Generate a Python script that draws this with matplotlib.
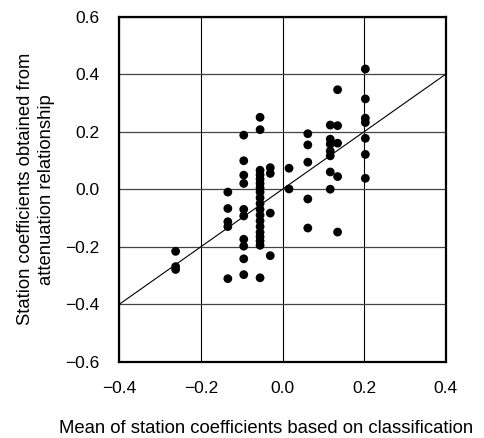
import numpy as np
import matplotlib.pyplot as plt

plt.rcParams['font.family'] = ['Liberation Sans', 'DejaVu Sans']

# Station coefficients: mean based on classification (x) vs from attenuation relationship (y)
x_groups = [-0.262, -0.134, -0.095, -0.055, -0.030, 0.016, 0.062, 0.117, 0.135, 0.203]
y_groups = [
    [-0.216, -0.269, -0.279],
    [-0.010, -0.067, -0.113, -0.130, -0.311],
    [0.188, 0.099, 0.049, 0.020, -0.070, -0.093, -0.174, -0.198, -0.242, -0.297],
    [0.250, 0.207, 0.066, 0.050, 0.035, 0.020, 0.005, -0.010, -0.030, -0.050,
     -0.070, -0.090, -0.110, -0.130, -0.150, -0.165, -0.180, -0.195, -0.308],
    [0.075, 0.055, -0.083, -0.231],
    [0.073, 0.001],
    [0.193, 0.154, 0.094, -0.034, -0.135],
    [0.223, 0.174, 0.157, 0.133, 0.116, 0.060, 0.000],
    [0.346, 0.221, 0.160, 0.044, -0.149],
    [0.418, 0.314, 0.247, 0.232, 0.177, 0.121, 0.038],
]

xs = np.concatenate([[xv] * len(yv) for xv, yv in zip(x_groups, y_groups)])
ys = np.concatenate(y_groups)

xticks = [-0.4, -0.2, 0.0, 0.2, 0.4]
yticks = [-0.6, -0.4, -0.2, 0.0, 0.2, 0.4, 0.6]

fig = plt.figure(figsize=(4.85, 4.38), dpi=100)
ax = fig.add_axes([0.246, 0.174, 0.673, 0.788])

for xv in xticks:
    ax.axvline(xv, color='black', lw=0.8, zorder=1)
for yv in yticks:
    ax.axhline(yv, color='#444444', lw=0.9, zorder=1)

ax.plot([-0.4, 0.4], [-0.4, 0.4], color='black', lw=0.8, zorder=2)
ax.scatter(xs, ys, s=40, color='black', edgecolors='none', zorder=3)

ax.set_xlim(-0.4, 0.4)
ax.set_ylim(-0.6, 0.6)
ax.set_xticks(xticks)
ax.set_yticks(yticks)
ax.set_xticklabels([f'{v:.1f}'.replace('-', '\u2212') for v in xticks])
ax.set_yticklabels([f'{v:.1f}'.replace('-', '\u2212') for v in yticks])
ax.tick_params(length=0, labelsize=12.5, pad=14)
for s in ax.spines.values():
    s.set_linewidth(1.6)

ax.set_xlabel('Mean of station coefficients based on classification', fontsize=13.3, labelpad=17)
ax.xaxis.label.set_x(0.449)
ax.set_ylabel('Station coefficients obtained from\nattenuation relationship', fontsize=13.3,
              labelpad=8, linespacing=1.3)

fig.savefig('out.png', dpi=100)
